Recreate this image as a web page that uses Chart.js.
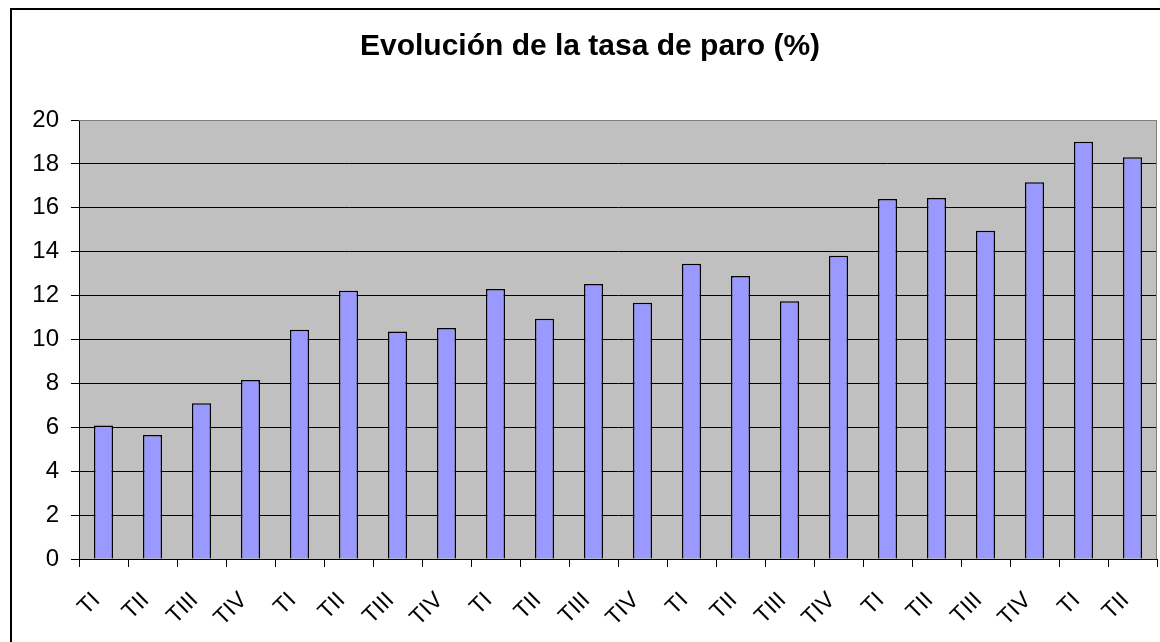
<!DOCTYPE html>
<html>
<head>
<meta charset="utf-8">
<title>Evolución de la tasa de paro</title>
<script src="https://cdn.jsdelivr.net/npm/chart.js@4/dist/chart.umd.min.js"></script>
<style>
  html, body { margin: 0; padding: 0; background: #fff; overflow: hidden; }
</style>
</head>
<body>
<canvas id="paroChart" width="1160" height="642"></canvas>
<script>
const quarters = [
  "TI", "TII", "TIII", "TIV",
  "TI", "TII", "TIII", "TIV",
  "TI", "TII", "TIII", "TIV",
  "TI", "TII", "TIII", "TIV",
  "TI", "TII", "TIII", "TIV",
  "TI", "TII"
];
const tasaParo = [
  6.08, 5.65, 7.09, 8.15,
  10.44, 12.22, 10.37, 10.52,
  12.30, 10.94, 12.53, 11.67,
  13.45, 12.89, 11.74, 13.82,
  16.40, 16.45, 14.96, 17.16,
  19.01, 18.30
];
const yMin = 0;
const yMax = 20;
const yStep = 2;

const FONT = "'Liberation Sans', Arial, Helvetica, sans-serif";

// grey plot background + grey top/right edges, like the old Excel chart
const plotArea = {
  id: "plotArea",
  beforeDraw(chart) {
    const { ctx, chartArea: a } = chart;
    ctx.save();
    ctx.fillStyle = "#c0c0c0";
    ctx.fillRect(a.left, a.top, a.right - a.left, a.bottom - a.top);
    ctx.restore();
  },
  beforeDatasetsDraw(chart) {
    const { ctx, chartArea: a } = chart;
    ctx.save();
    ctx.strokeStyle = "#808080";
    ctx.lineWidth = 1;
    ctx.beginPath();
    ctx.moveTo(a.left, a.top + 0.5);
    ctx.lineTo(a.right - 0.5, a.top + 0.5);
    ctx.lineTo(a.right - 0.5, a.bottom);
    ctx.stroke();
    ctx.restore();
  }
};

// outer chart frame (cut off on the right and bottom in the original)
const outerFrame = {
  id: "outerFrame",
  afterDraw(chart) {
    const { ctx, width, height } = chart;
    ctx.save();
    ctx.strokeStyle = "#000";
    ctx.lineWidth = 2;
    ctx.beginPath();
    ctx.moveTo(11, height);
    ctx.lineTo(11, 9);
    ctx.lineTo(width, 9);
    ctx.stroke();
    ctx.restore();
  }
};

new Chart(document.getElementById("paroChart"), {
  type: "bar",
  data: {
    labels: quarters,
    datasets: [
      {
        data: tasaParo,
        backgroundColor: "#9999ff",
        borderColor: "#000",
        borderWidth: 1.5,
        barPercentage: 0.39,
        categoryPercentage: 1
      }
    ]
  },
  options: {
    responsive: false,
    animation: false,
    layout: {
      padding: { left: 23, right: 3, top: 0, bottom: 0 }
    },
    plugins: {
      legend: { display: false },
      tooltip: { enabled: false },
      title: {
        display: true,
        text: "Evolución de la tasa de paro (%)",
        color: "#000",
        font: { family: FONT, size: 30, weight: "bold", lineHeight: 1.2 },
        padding: { top: 29, bottom: 55 }
      }
    },
    scales: {
      x: {
        grid: {
          offset: true,
          drawOnChartArea: false,
          drawTicks: true,
          tickLength: 8,
          tickColor: "#000"
        },
        border: { color: "#000", width: 1 },
        ticks: {
          color: "#000",
          font: { family: FONT, size: 23 },
          minRotation: 45,
          maxRotation: 45,
          autoSkip: false,
          labelOffset: -7,
          padding: 20
        },
        afterFit(scale) {
          scale.height = 83;
          // rotated labels stay inside the plot width, no extra side padding
          scale.paddingLeft = 0;
          scale.paddingRight = 0;
        }
      },
      y: {
        min: yMin,
        max: yMax,
        grid: {
          color: c => (c.tick && c.tick.value === yMax ? "#808080" : "#000"),
          lineWidth: 1,
          tickLength: 8,
          tickColor: "#000"
        },
        border: { color: "#000", width: 1 },
        ticks: {
          stepSize: yStep,
          color: "#000",
          font: { family: FONT, size: 24 },
          padding: 12
        },
        afterFit(scale) {
          scale.width = 56;
        }
      }
    }
  },
  plugins: [plotArea, outerFrame]
});
</script>
</body>
</html>
